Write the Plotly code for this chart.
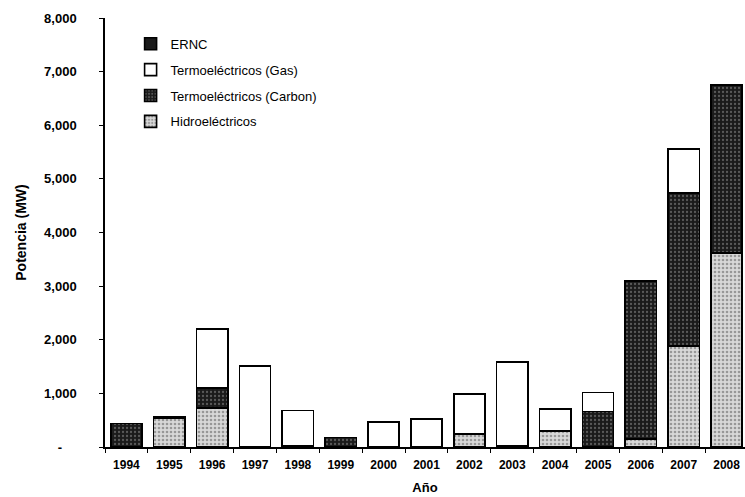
import plotly.graph_objects as go

# Installed capacity additions per year (MW), by technology
years = ["1994", "1995", "1996", "1997", "1998", "1999", "2000", "2001",
         "2002", "2003", "2004", "2005", "2006", "2007", "2008"]
hidro = [0, 540, 730, 10, 20, 0, 0, 0, 240, 30, 300, 0, 150, 1880, 3620]
carbon = [440, 30, 370, 0, 0, 180, 0, 0, 0, 0, 0, 660, 2950, 2860, 3130]
gas = [0, 0, 1100, 1500, 660, 0, 470, 520, 750, 1550, 410, 360, 0, 820, 0]
ernc = [0] * 15

y_ticks = [0, 1000, 2000, 3000, 4000, 5000, 6000, 7000, 8000]
y_labels = ["-\u00a0\u00a0\u00a0\u00a0", "1,000", "2,000", "3,000", "4,000",
            "5,000", "6,000", "7,000", "8,000"]

font_family = "Liberation Sans, Arial, sans-serif"
outline = dict(color="black", width=1.6)

fig = go.Figure()
fig.add_trace(go.Bar(
    x=years, y=hidro, name="Hidroeléctricos", legendgroup="h", legendrank=4,
    marker=dict(color="#cfcfcf", line=outline,
                pattern=dict(shape=".", fgcolor="#555555", bgcolor="#d8d8d8",
                             size=4, solidity=0.35)),
))
fig.add_trace(go.Bar(
    x=years, y=carbon, name="Termoeléctricos (Carbon)", legendgroup="c", legendrank=3,
    marker=dict(color="#222222", line=outline,
                pattern=dict(shape=".", fgcolor="#9a9a9a", bgcolor="#1a1a1a",
                             size=4, solidity=0.25)),
))
fig.add_trace(go.Bar(
    x=years, y=gas, name="Termoeléctricos (Gas)", legendgroup="g", legendrank=2,
    marker=dict(color="white", line=outline),
))
fig.add_trace(go.Bar(
    x=years, y=ernc, name="ERNC", legendgroup="e", legendrank=1,
    marker=dict(color="#1a1a1a", line=outline),
))

fig.update_layout(
    width=745, height=497,
    margin=dict(l=105, r=0, t=18, b=50),
    barmode="stack",
    bargap=0.27,
    plot_bgcolor="white",
    paper_bgcolor="white",
    font=dict(family=font_family, size=12, color="black"),
    showlegend=True,
    legend=dict(
        x=0.04, y=0.975, xanchor="left", yanchor="top",
        traceorder="grouped", tracegroupgap=6,
        bgcolor="rgba(0,0,0,0)", borderwidth=0,
        font=dict(family=font_family, size=13, color="black"),
        itemwidth=30,
    ),
    xaxis=dict(
        type="category",
        range=[-0.5, 14.43],
        showline=True, linecolor="black", linewidth=1.5,
        ticks="outside", ticklen=4, tickcolor="black",
        tickson="boundaries",
        showgrid=False,
        ticklabelstandoff=6,
        tickfont=dict(family=font_family, size=12, color="black", weight="bold"),
        title=dict(text="<b>Año</b>", font=dict(size=13), standoff=12),
    ),
    yaxis=dict(
        range=[0, 8000],
        tickvals=y_ticks, ticktext=y_labels,
        showline=True, linecolor="black", linewidth=1.5,
        ticks="outside", ticklen=4, tickcolor="black",
        showgrid=False, zeroline=False,
        tickfont=dict(family=font_family, size=13, color="black", weight="bold"),
        ticklabelstandoff=20,
        title=dict(text="<b>Potencia (MW)</b>", font=dict(size=14), standoff=14),
    ),
)

fig.write_html("out.html")
